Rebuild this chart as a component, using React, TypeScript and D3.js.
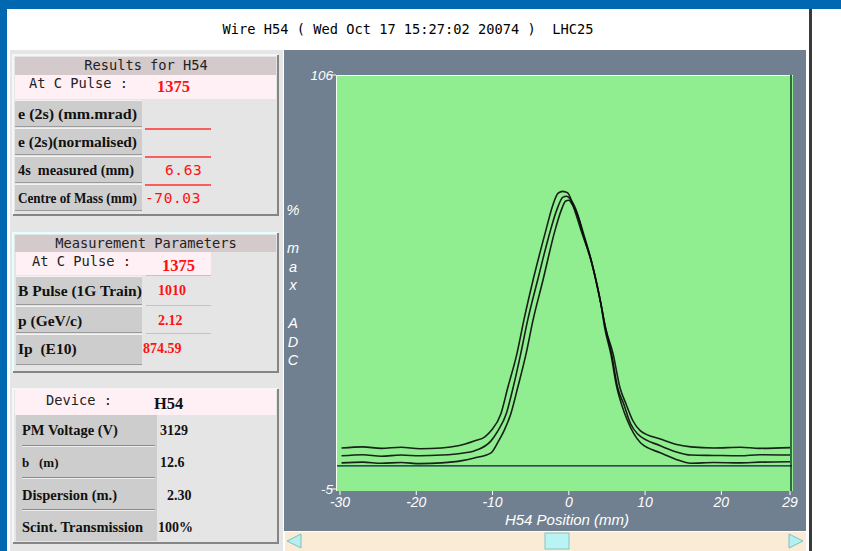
import * as d3 from 'd3';

const title = 'Wire H54 ( Wed Oct 17 15:27:02 20074 )  LHC25';

// x positions (mm) / % max ADC
const scanA: [number, number][] = [
  [-29.8, 6.0], [-27, 6.3], [-24.6, 5.9], [-22, 6.2], [-19.5, 5.8], [-16.7, 6.0], [-14.5, 6.6],
  [-12.4, 7.9], [-11, 9.0], [-10.2, 10.6], [-8.9, 15.2], [-8.0, 22.2], [-6.8, 31.3], [-5.9, 40.2],
  [-4.7, 50.9], [-3.0, 64.4], [-2.1, 71.1], [-1.4, 74.3], [-0.8, 74.8], [-0.4, 74.6], [-0.1, 74.3],
  [0.9, 68.9], [1.6, 64.4], [2.9, 56.3], [4.2, 44.7], [4.8, 38.3], [5.8, 31.3], [6.7, 22.2],
  [7.5, 17.8], [8.4, 13.3], [9.4, 10.6], [12.0, 8.4], [14, 7.0], [16.0, 6.3], [19, 6.0],
  [22.5, 6.2], [25, 5.9], [29.0, 6.1],
];
const scanB: [number, number][] = [
  [-29.8, 3.9], [-27, 4.2], [-24.6, 3.8], [-22, 4.1], [-19.5, 3.9], [-16.7, 4.1], [-14, 4.6],
  [-12.4, 5.2], [-10.2, 7.9], [-9.3, 10.6], [-8.2, 15.2], [-7.3, 22.2], [-6.3, 31.3], [-5.4, 40.2],
  [-4.1, 50.9], [-2.4, 64.4], [-1.6, 69.7], [-0.8, 73.2], [-0.3, 73.5], [0.3, 72.4], [1.2, 68.4],
  [1.8, 63.8], [3.0, 55.8], [4.2, 44.7], [4.8, 38.3], [5.6, 31.3], [6.4, 22.2], [7.2, 17.8],
  [8.1, 12.5], [9.0, 9.8], [12.0, 6.6], [14, 5.0], [16.0, 4.1], [19, 4.0], [22.5, 3.9],
  [25, 4.2], [29, 4.1],
];
const scanC: [number, number][] = [
  [-29.8, 2.0], [-27, 2.2], [-24.6, 1.9], [-22, 2.1], [-19.5, 1.8], [-16.7, 2.0], [-14, 2.6],
  [-12.4, 3.3], [-10.2, 4.7], [-9.2, 7.9], [-8.5, 10.6], [-7.6, 15.2], [-6.7, 22.2], [-5.6, 31.3],
  [-4.7, 40.2], [-3.4, 50.9], [-1.8, 64.4], [-1.0, 69.7], [-0.4, 72.2], [0, 72.4], [0.5, 71.1],
  [1.3, 67.6], [2.0, 63.0], [3.0, 55.8], [4.2, 44.7], [4.7, 38.3], [5.5, 31.3], [6.3, 22.2],
  [6.9, 17.8], [7.7, 13.3], [9.4, 7.4], [12.0, 4.7], [14, 3.0], [16.0, 1.9], [19, 2.1],
  [22.5, 2.0], [25, 2.2], [29, 2.3],
];
const baseline = 1.2;

const xTicks = [-30, -20, -10, 0, 10, 20, 29];
const yTicks = [106, -5];
const yTitle = ['%', 'm', 'a', 'x', 'A', 'D', 'C'];
const yTitlePos = [215, 253, 272, 290, 328, 347, 365];

const resultLabels = ['e (2s) (mm.mrad)', 'e (2s)(normalised)', '4s  measured (mm)', 'Centre of Mass (mm)'];
const resultValues = ['', '', '6.63', '-70.03'];
const paramLabels = ['B Pulse (1G Train)', 'p (GeV/c)', 'Ip  (E10)'];
const paramValues = ['1010', '2.12', '874.59'];
const deviceLabels = ['PM Voltage (V)', 'b   (m)', 'Dispersion (m.)', 'Scint. Transmission'];
const deviceValues = ['3129', '12.6', '2.30', '100%'];
const cPulse = '1375';
const device = 'H54';

const W = 841;
const H = 551;
const mono = 'DejaVu Sans Mono, monospace';
const serif = 'Liberation Serif, DejaVu Serif, serif';
const sans = 'Liberation Sans, Arial, sans-serif';

const x = d3.scaleLinear().domain([-30, 29]).range([340, 790]);
const y = d3.scaleLinear().domain([-5, 106]).range([489, 75]);
const line = d3
  .line<[number, number]>()
  .x((d) => x(d[0]))
  .y((d) => y(d[1]))
  .curve(d3.curveMonotoneX);

const Bevel = ({ x0, y0, w, h, light = '#f6f6f6', dark = '#858585' }: any) => (
  <g>
    <rect x={x0} y={y0} width={w} height={h} fill="#e5e5e5" />
    <path d={`M${x0},${y0 + h} V${y0} H${x0 + w}`} stroke={light} strokeWidth={2} fill="none" />
    <path d={`M${x0 + w},${y0} V${y0 + h} H${x0}`} stroke={dark} strokeWidth={2} fill="none" />
  </g>
);

const LabelBox = ({ x0, y0, w, h }: any) => (
  <g>
    <rect x={x0} y={y0} width={w} height={h} fill="#cdcdcd" />
    <line x1={x0} x2={x0 + w} y1={y0 + 0.5} y2={y0 + 0.5} stroke="#f2f2f2" />
    <line x1={x0} x2={x0 + w} y1={y0 + h - 0.5} y2={y0 + h - 0.5} stroke="#9a9a9a" />
  </g>
);

export default function App() {
  const resultRows = [100, 128, 156, 184];
  const paramRows = [276, 306, 334];
  const paramH = [29, 27, 31];
  const deviceBase = [435, 467, 500, 532];
  return (
    <svg width={W} height={H} style={{ position: 'absolute', left: 0, top: 0 }}>
      <rect width={W} height={H} fill="#ffffff" />
      <rect width={W} height={9} fill="#0068b0" />
      <rect width={7} height={H} fill="#0068b0" />
      <line x1={7.5} x2={7.5} y1={9} y2={H} stroke="#ffffff" strokeDasharray="1 1" />
      <rect x={809} y={9} width={3} height={H - 9} fill="#3a3a3a" />

      <text x={408} y={34} textAnchor="middle" fontFamily={mono} fontSize={13.7} fill="#000"
        style={{ whiteSpace: 'pre' }}>
        {title}
      </text>

      {/* left column */}
      <rect x={10} y={50} width={273} height={H - 50} fill="#e5e5e5" />

      {/* Results */}
      <Bevel x0={13} y0={55} w={265} h={160} />
      <rect x={15} y={57} width={261} height={18} fill="#d4c9cb" />
      <text x={146} y={70} textAnchor="middle" fontFamily={mono} fontSize={13.7} fill="#222">
        Results for H54
      </text>
      <rect x={15} y={75} width={261} height={24} fill="#fff0f5" />
      <text x={29} y={88} fontFamily={mono} fontSize={13.7} fill="#222">At C Pulse :</text>
      <text x={157} y={92} fontFamily={serif} fontWeight="bold" fontSize={16.5} fill="#ff1010">{cPulse}</text>
      {resultLabels.map((l, i) => (
        <g key={l}>
          <LabelBox x0={15} y0={resultRows[i]} w={127} h={27} />
          <text x={18} y={resultRows[i] + 19} fontFamily={serif} fontWeight="bold" fontSize={14}
            textLength={i === 2 ? 116 : 119} lengthAdjust="spacingAndGlyphs" fill="#111"
            style={{ whiteSpace: 'pre' }}>
            {l}
          </text>
          {i < 3 && <line x1={145} x2={211} y1={resultRows[i] + 29} y2={resultRows[i] + 29} stroke="#ff3030" strokeWidth={1.3} />}
          {resultValues[i] && (
            <text x={i === 3 ? 145 : 165} y={resultRows[i] + 19} fontFamily={mono} fontSize={14.5}
              letterSpacing={0.6} fill="#ff1010">
              {resultValues[i]}
            </text>
          )}
        </g>
      ))}

      {/* Measurement parameters */}
      <Bevel x0={13} y0={233} w={265} h={139} light="#e4ffff" />
      <rect x={15} y={235} width={261} height={17} fill="#d4c9cb" />
      <text x={146} y={248} textAnchor="middle" fontFamily={mono} fontSize={13.7} fill="#222">
        Measurement Parameters
      </text>
      <rect x={16} y={252} width={130} height={23} fill="#fff0f5" />
      <rect x={146} y={252} width={65} height={23} fill="#fff0f5" />
      <text x={32} y={266} fontFamily={mono} fontSize={13.7} fill="#222">At C Pulse :</text>
      <text x={162} y={271} fontFamily={serif} fontWeight="bold" fontSize={16.5} fill="#ff1010">{cPulse}</text>
      {paramLabels.map((l, i) => (
        <g key={l}>
          <LabelBox x0={16} y0={paramRows[i]} w={126} h={paramH[i]} />
          <line x1={146} x2={211} y1={paramRows[i] - 0.5} y2={paramRows[i] - 0.5} stroke="#c2c2c2" />
          <text x={18} y={[296, 326, 354][i]} fontFamily={serif} fontWeight="bold" fontSize={15.5}
            fill="#111" style={{ whiteSpace: 'pre' }}>
            {l}
          </text>
          <text x={i === 2 ? 143 : 158} y={[295, 325, 353][i]} fontFamily={serif} fontWeight="bold"
            fontSize={14} fill="#ff1010">
            {paramValues[i]}
          </text>
        </g>
      ))}

      {/* Device */}
      <Bevel x0={13} y0={389} w={265} h={154} />
      <rect x={15} y={390} width={261} height={25} fill="#fff0f5" />
      <text x={46} y={405} fontFamily={mono} fontSize={13.7} fill="#222">Device :</text>
      <text x={154} y={409} fontFamily={serif} fontWeight="bold" fontSize={16.5} fill="#111">{device}</text>
      <rect x={16} y={415} width={141} height={126} fill="#cdcdcd" />
      {[446, 478, 510].map((v) => (
        <g key={v}>
          <line x1={22} x2={155} y1={v - 0.5} y2={v - 0.5} stroke="#8a8a8a" />
          <line x1={22} x2={155} y1={v + 0.5} y2={v + 0.5} stroke="#eeeeee" />
        </g>
      ))}
      {deviceLabels.map((l, i) => (
        <g key={l}>
          <text x={22} y={deviceBase[i]} fontFamily={serif} fontWeight="bold" fontSize={i === 1 ? 13 : 14.5}
            fill="#111" style={{ whiteSpace: 'pre' }}>
            {l}
          </text>
          <text x={[160, 160, 167, 158][i]} y={deviceBase[i]} fontFamily={serif} fontWeight="bold"
            fontSize={14} fill="#111">
            {deviceValues[i]}
          </text>
        </g>
      ))}

      {/* plot */}
      <rect x={284} y={50} width={522} height={481} fill="#708090" />
      <rect x={336} y={75} width={457} height={416} fill="#90ee90" />
      <path d="M336.5,491 V75.5 H793" stroke="#f4fff4" fill="none" />
      <line x1={x(29) + 1} x2={x(29) + 1} y1={75} y2={491} stroke="#2f6b40" strokeWidth={2} />

      {yTicks.map((t) => (
        <g key={t}>
          <line x1={331} x2={336} y1={y(t)} y2={y(t)} stroke="#ffffff" />
          <text x={333} y={y(t) + 5} textAnchor="end" fontFamily={sans} fontStyle="italic" fontSize={13.5}
            fill="#ffffff">
            {t}
          </text>
        </g>
      ))}
      {yTitle.map((c, i) => (
        <text key={i} x={293} y={yTitlePos[i]} textAnchor="middle" fontFamily={sans} fontStyle="italic"
          fontSize={14.5} fill="#ffffff">
          {c}
        </text>
      ))}
      {xTicks.map((t) => (
        <g key={t}>
          <line x1={x(t)} x2={x(t)} y1={491} y2={495} stroke="#ffffff" />
          <text x={x(t)} y={507} textAnchor="middle" fontFamily={sans} fontStyle="italic" fontSize={14}
            fill="#ffffff">
            {t}
          </text>
        </g>
      ))}
      <text x={567} y={525} textAnchor="middle" fontFamily={sans} fontStyle="italic" fontSize={15}
        fill="#ffffff">
        H54 Position (mm)
      </text>

      <line x1={337} x2={792} y1={y(baseline)} y2={y(baseline)} stroke="#141446" strokeWidth={1.2} />
      {[scanA, scanB, scanC].map((s, i) => (
        <path key={i} d={line(s) ?? ''} fill="none" stroke="#0a0a0a" strokeWidth={1.6}
          strokeOpacity={0.9} />
      ))}

      {/* scrollbar */}
      <rect x={285} y={532} width={521} height={19} fill="#faebd7" />
      <path d="M287,541 L301,534 L301,548 Z" fill="#b4f0f0" stroke="#7fbfbf" />
      <path d="M803,541 L789,534 L789,548 Z" fill="#b4f0f0" stroke="#7fbfbf" />
      <rect x={545} y={533} width={24} height={16} fill="#b8f4f4" stroke="#88c4c4" />
    </svg>
  );
}
